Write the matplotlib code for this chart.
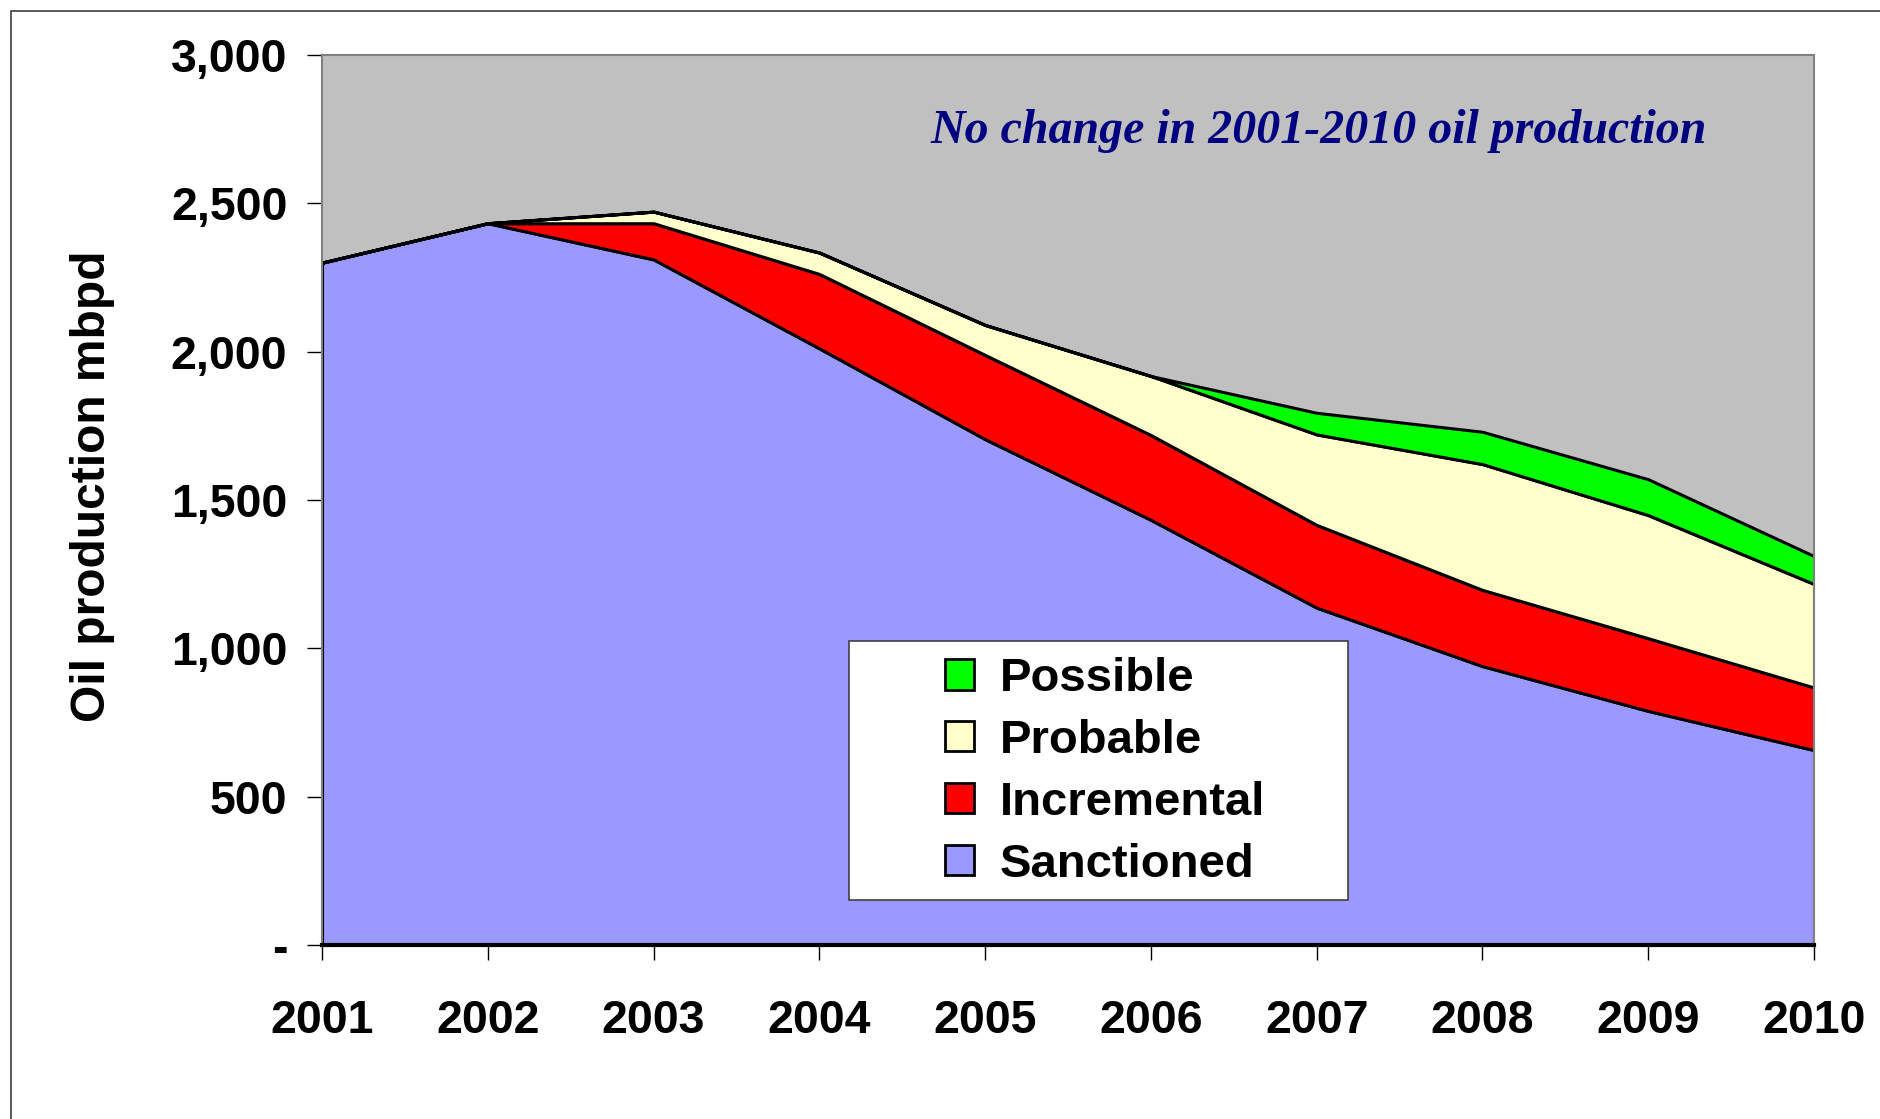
import matplotlib
matplotlib.use('Agg')
import matplotlib.pyplot as plt
import matplotlib.ticker as mticker
from matplotlib.patches import Rectangle

years = [2001, 2002, 2003, 2004, 2005, 2006, 2007, 2008, 2009, 2010]
sanctioned = [2300, 2433, 2311, 2011, 1705, 1433, 1137, 940, 789, 657]
incremental = [0, 0, 122, 251, 284, 286, 279, 257, 245, 211]
probable = [0, 0, 39, 72, 101, 199, 305, 424, 415, 349]
possible = [0, 0, 0, 0, 0, 0, 73, 109, 121, 94]
labels = ['Sanctioned', 'Incremental', 'Probable', 'Possible']
colors = ['#9999FF', '#FF0000', '#FFFFCC', '#00FF00']

plt.rcParams['font.family'] = ['Liberation Sans', 'DejaVu Sans']
plt.rcParams['font.weight'] = 'bold'

fig = plt.figure(figsize=(18.81, 11.19), dpi=100)
# outer frame of the original slide (cropped on right and bottom)
fig.patches.append(Rectangle((11 / 1881, -0.2), 1.2, 1.2 - 11 / 1119,
                             transform=fig.transFigure, fill=False,
                             edgecolor='#404040', linewidth=1.2))
ax = fig.add_axes([322 / 1881, 1 - 945 / 1119, (1814 - 322) / 1881, (945 - 55) / 1119])
ax.set_facecolor('#C0C0C0')

ax.stackplot(years, sanctioned, incremental, probable, possible,
             colors=colors, edgecolor='black', linewidth=2.2, labels=labels)

ax.set_xlim(2001, 2010)
ax.set_ylim(0, 3000)
ax.set_yticks(range(0, 3001, 500))
ax.yaxis.set_major_formatter(mticker.FuncFormatter(
    lambda v, p: '-' if v == 0 else f'{int(v):,}'))
ax.set_xticks(years)
ax.tick_params(axis='both', direction='out', length=11, width=1, labelsize=33.5)
ax.tick_params(axis='x', pad=28)
ax.tick_params(axis='y', pad=14)
for lab in ax.get_xticklabels() + ax.get_yticklabels():
    lab.set_fontweight('bold')

for side in ['top', 'right', 'left']:
    ax.spines[side].set_color('#808080')
    ax.spines[side].set_linewidth(1.5)
ax.spines['bottom'].set_color('black')
ax.spines['bottom'].set_linewidth(3)

ax.set_ylabel('Oil production mbpd', fontsize=34.5, fontweight='bold')
ax.yaxis.set_label_coords(-0.1385, 0.515)

ax.text(0.668, 0.915, 'No change in 2001-2010 oil production', transform=ax.transAxes,
        ha='center', va='center', fontsize=34.5, fontstyle='italic', fontweight='bold',
        family='Liberation Serif', color='#000080')

# legend box
ax.add_patch(Rectangle((0.3532, 0.0506), 0.3345, 0.291, transform=ax.transAxes,
                       facecolor='white', edgecolor='#404040', linewidth=1.2, zorder=4))
handles, labs = ax.get_legend_handles_labels()
leg = ax.legend(handles[::-1], labs[::-1], loc='upper left',
                bbox_to_anchor=((945 - 322) / 1492, (945 - 657) / 890),
                fontsize=34, frameon=False, handlelength=0.61, handleheight=0.61,
                borderpad=0, labelspacing=0.38, handletextpad=0.55,
                borderaxespad=0)
leg.set_zorder(5)
for t in leg.get_texts():
    t.set_fontweight('bold')
for h in leg.legend_handles:
    h.set_linewidth(2)

fig.savefig('out.png', dpi=100)
